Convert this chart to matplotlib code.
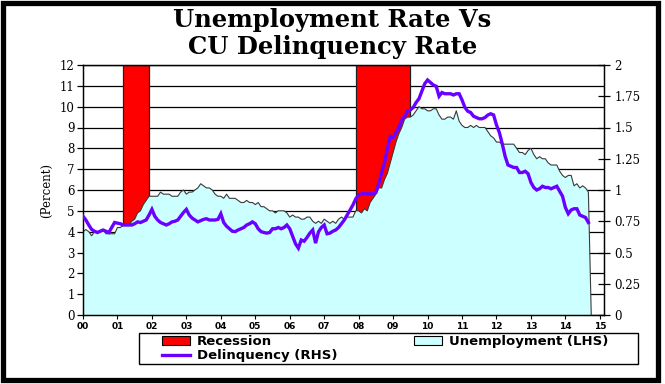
import numpy as np
import matplotlib
matplotlib.use("Agg")
import matplotlib.pyplot as plt
from matplotlib.patches import Rectangle, Patch
from matplotlib.lines import Line2D

# monthly data, Jan 2000 .. Sep 2014 (unemployment has a blank->0 for Oct 2014)
unemp = [
    4.0, 4.1, 4.0, 3.8, 4.0, 4.0, 4.0, 4.1, 3.9, 3.9, 3.9, 3.9,   # 2000
    4.2, 4.2, 4.3, 4.4, 4.3, 4.5, 4.6, 4.9, 5.0, 5.3, 5.5, 5.7,   # 2001
    5.7, 5.7, 5.7, 5.9, 5.8, 5.8, 5.8, 5.7, 5.7, 5.7, 5.9, 6.0,   # 2002
    5.8, 5.9, 5.9, 6.0, 6.1, 6.3, 6.2, 6.1, 6.1, 6.0, 5.8, 5.7,   # 2003
    5.7, 5.6, 5.8, 5.6, 5.6, 5.6, 5.5, 5.4, 5.4, 5.5, 5.4, 5.4,   # 2004
    5.3, 5.4, 5.2, 5.2, 5.1, 5.0, 5.0, 4.9, 5.0, 5.0, 5.0, 4.9,   # 2005
    4.7, 4.8, 4.7, 4.7, 4.6, 4.6, 4.7, 4.7, 4.5, 4.4, 4.5, 4.4,   # 2006
    4.6, 4.5, 4.4, 4.5, 4.4, 4.6, 4.7, 4.6, 4.7, 4.7, 4.7, 5.0,   # 2007
    5.0, 4.9, 5.1, 5.0, 5.4, 5.6, 5.8, 6.1, 6.1, 6.5, 6.8, 7.3,   # 2008
    7.8, 8.3, 8.7, 9.0, 9.4, 9.5, 9.5, 9.6, 9.8, 10.0, 9.9, 9.9,  # 2009
    9.8, 9.8, 9.9, 9.9, 9.6, 9.4, 9.4, 9.5, 9.5, 9.4, 9.8, 9.3,   # 2010
    9.1, 9.0, 9.0, 9.1, 9.0, 9.1, 9.0, 9.0, 9.0, 8.8, 8.6, 8.5,   # 2011
    8.3, 8.3, 8.2, 8.2, 8.2, 8.2, 8.2, 8.0, 7.8, 7.8, 7.7, 7.9,   # 2012
    8.0, 7.7, 7.5, 7.6, 7.5, 7.5, 7.3, 7.2, 7.2, 7.2, 6.9, 6.7,   # 2013
    6.6, 6.7, 6.7, 6.2, 6.3, 6.1, 6.2, 6.1, 5.9, 0.0,             # 2014
]

delinq = [
    0.79, 0.76, 0.72, 0.685, 0.67, 0.66, 0.67, 0.68, 0.67, 0.66, 0.70, 0.74,
    0.735, 0.73, 0.72, 0.72, 0.72, 0.72, 0.73, 0.745, 0.74, 0.75, 0.76, 0.80,
    0.845, 0.79, 0.76, 0.74, 0.73, 0.72, 0.73, 0.745, 0.75, 0.76, 0.79, 0.82,
    0.845, 0.80, 0.775, 0.76, 0.745, 0.755, 0.765, 0.77, 0.76, 0.76, 0.76, 0.765,
    0.81, 0.74, 0.71, 0.69, 0.67, 0.667, 0.68, 0.69, 0.70, 0.72, 0.73, 0.745,
    0.73, 0.69, 0.667, 0.66, 0.655, 0.66, 0.69, 0.69, 0.70, 0.69, 0.70, 0.72,
    0.69, 0.63, 0.57, 0.535, 0.60, 0.59, 0.62, 0.655, 0.68, 0.575, 0.665, 0.70,
    0.72, 0.65, 0.655, 0.67, 0.68, 0.70, 0.73, 0.76, 0.80, 0.84, 0.88, 0.93,
    0.96, 0.97, 0.97, 0.97, 0.97, 0.97, 0.98, 1.05, 1.14, 1.22, 1.33, 1.43,
    1.42, 1.46, 1.50, 1.56, 1.59, 1.63, 1.64, 1.66, 1.70, 1.73, 1.79, 1.85,
    1.88, 1.86, 1.84, 1.83, 1.75, 1.78, 1.77, 1.77, 1.77, 1.76, 1.77, 1.77,
    1.72, 1.66, 1.63, 1.62, 1.59, 1.58, 1.57, 1.57, 1.58, 1.60, 1.61, 1.60,
    1.52, 1.46, 1.37, 1.27, 1.20, 1.19, 1.18, 1.18, 1.14, 1.14, 1.15, 1.13,
    1.06, 1.02, 1.00, 1.01, 1.03, 1.02, 1.02, 1.01, 1.02, 1.03, 0.99, 0.95,
    0.86, 0.81, 0.84, 0.85, 0.85, 0.80, 0.79, 0.78, 0.74,
]

# recessions (year, month) first and last month
rec_start = [(2001, 3), (2007, 12)]
rec_end = [(2001, 11), (2009, 6)]

year_labels = ["00", "01", "02", "03", "04", "05", "06", "07",
               "08", "09", "10", "11", "12", "13", "14", "15"]

W, H = 665, 384
fig = plt.figure(figsize=(W / 100, H / 100), dpi=100)

ax = fig.add_axes([83 / W, 69 / H, 521 / W, 250 / H])
ax2 = ax.twinx()

t_u = 2000 + np.arange(len(unemp)) / 12
t_d = 2000 + np.arange(len(delinq)) / 12

for (y0, m0), (y1, m1) in zip(rec_start, rec_end):
    x0 = y0 + (m0 - 1) / 12
    x1 = y1 + m1 / 12
    ax.axvspan(x0, x1, ymin=0, ymax=1, facecolor="#FF0000",
               edgecolor="#202020", lw=0.9, zorder=1)

ax.fill_between(t_u, unemp, 0, facecolor="#CCFFFF", edgecolor="none", zorder=2)
ax.plot(np.r_[t_u[0], t_u], np.r_[0, unemp], color="#3a3a3a", lw=0.8, zorder=3)

ax2.plot(t_d, delinq, color="#6A00FF", lw=2.4, solid_joinstyle="miter", zorder=5)

ax.set_xlim(2000, 2015.12)
ax.set_ylim(0, 12)
ax2.set_ylim(0, 2)

ax.set_yticks(range(0, 13))
ax.yaxis.grid(True, color="black", lw=0.9)
ax.set_axisbelow(True)
ax.tick_params(axis="y", direction="out", length=4, width=0.9, pad=2,
               labelsize=8.5)
for lab in ax.get_yticklabels():
    lab.set_family("DejaVu Serif")

ax2_ticks = np.arange(0, 2.01, 0.25)
ax2.set_yticks(ax2_ticks)
ax2.set_yticklabels([f"{v:g}" for v in ax2_ticks], family="DejaVu Serif")
ax2.tick_params(axis="y", direction="inout", length=9, width=0.9, pad=3,
                labelsize=8.5)

ax.set_xticks(2000 + np.arange(len(year_labels)))
ax.set_xticklabels(year_labels, family="DejaVu Sans", weight="bold", fontsize=6.5)
ax.tick_params(axis="x", direction="out", length=3, width=0.8, pad=2)

for a in (ax, ax2):
    for s in a.spines.values():
        s.set_color("black")
        s.set_linewidth(0.9)

fig.text(47 / W, 1 - 190 / H, "(Percent)", rotation=90, ha="center", va="center",
         family="DejaVu Serif", fontsize=8.5)

fig.text(0.5, 1 - 20 / H, "Unemployment Rate Vs", ha="center", va="center",
         family="DejaVu Serif", weight="bold", fontsize=17.5)
fig.text(0.5, 1 - 47 / H, "CU Delinquency Rate", ha="center", va="center",
         family="DejaVu Serif", weight="bold", fontsize=17.5)

# legend box drawn separately, entries placed inside it
fig.patches.append(Rectangle((139 / W, 1 - 364 / H), 499 / W, 31 / H,
                             transform=fig.transFigure, fill=False,
                             edgecolor="black", lw=1.0))
handles = [
    Patch(facecolor="#FF0000", edgecolor="black", lw=0.8),
    Line2D([], [], color="#6A00FF", lw=2.4),
    Patch(facecolor="#CCFFFF", edgecolor="black", lw=0.8),
]
labels = ["Recession", "Delinquency (RHS)", "Unemployment (LHS)"]
fsz = 9.5
em = fsz * 100 / 72
col_gap = (413 - 336) / em
leg = fig.legend(handles, labels, ncol=2, loc="upper left",
                 bbox_to_anchor=(162 / W, 1 - 335 / H),
                 frameon=False,
                 prop={"family": "DejaVu Sans", "weight": "bold", "size": fsz},
                 handlelength=28 / em, handleheight=0.6, handletextpad=0.5,
                 borderpad=0.0, labelspacing=0.1, borderaxespad=0,
                 columnspacing=col_gap)

fig.patches.append(Rectangle((2.5 / W, 4.5 / H), 655 / W, 377 / H,
                             transform=fig.transFigure, fill=False,
                             edgecolor="black", lw=3.8))

fig.savefig("out.png", dpi=100)
